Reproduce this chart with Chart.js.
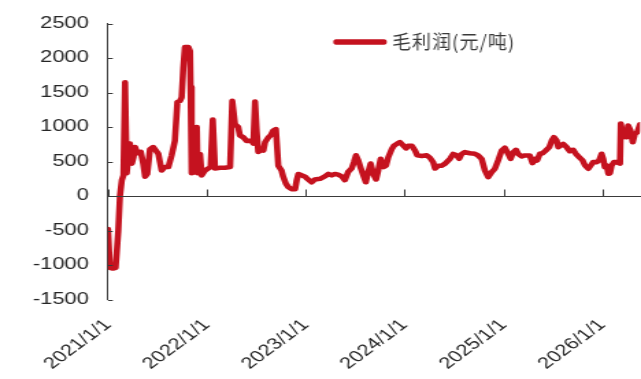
<!DOCTYPE html>
<html>
<head>
<meta charset="utf-8">
<script src="https://cdn.jsdelivr.net/npm/chart.js@4/dist/chart.umd.min.js"></script>
<style>
  html, body { margin: 0; padding: 0; background: #fff; overflow: hidden; }
  #wrap { width: 641px; height: 379px; overflow: hidden; background: #fff; }
  #chart { display: block; transform-origin: 0 0; }
</style>
</head>
<body>
<div id="wrap"><canvas id="chart"></canvas></div>
<script>
// Gross margin series, yuan per tonne
const seriesLabel = '毛利润(元/吨)';

const dates = [
  '2021-01-01','2021-01-08','2021-01-19','2021-01-29','2021-02-08','2021-02-14','2021-02-21','2021-02-27',
  '2021-03-05','2021-03-11','2021-03-18','2021-03-23','2021-03-30','2021-04-05','2021-04-11','2021-04-19',
  '2021-05-02','2021-05-11','2021-05-18','2021-05-26','2021-06-05','2021-06-17','2021-07-06','2021-07-18',
  '2021-07-30','2021-08-12','2021-08-24','2021-09-05','2021-09-14','2021-09-24','2021-09-30','2021-10-06',
  '2021-10-12','2021-10-25','2021-10-31','2021-11-02','2021-11-06','2021-11-15','2021-11-25','2021-11-28',
  '2021-12-07','2021-12-13','2021-12-25',
  '2022-01-06','2022-01-15','2022-01-23','2022-01-31','2022-02-19','2022-03-09','2022-03-28','2022-04-05',
  '2022-04-15','2022-04-27','2022-05-03','2022-05-16','2022-05-28','2022-06-16','2022-06-22','2022-06-28',
  '2022-07-04','2022-07-10','2022-07-23','2022-07-29','2022-08-04','2022-08-16','2022-08-25','2022-09-03',
  '2022-09-13','2022-09-22','2022-10-04','2022-10-10','2022-10-20','2022-10-29','2022-11-10','2022-11-23',
  '2022-11-29','2022-12-05','2022-12-17','2022-12-30',
  '2023-01-07','2023-01-23','2023-02-04','2023-02-23','2023-03-13','2023-03-26','2023-04-07','2023-04-19',
  '2023-05-01','2023-05-14','2023-05-26','2023-06-07','2023-06-20','2023-06-28','2023-07-06','2023-07-14',
  '2023-07-24','2023-08-02','2023-08-11','2023-08-20','2023-08-29','2023-09-08','2023-09-18','2023-09-26',
  '2023-10-05','2023-10-15','2023-10-25','2023-11-02','2023-11-15','2023-11-23','2023-12-05','2023-12-15',
  '2023-12-28',
  '2024-01-07','2024-01-15','2024-01-28','2024-02-09','2024-02-17','2024-03-05','2024-03-23','2024-04-04',
  '2024-04-16','2024-04-23','2024-05-05','2024-05-17','2024-05-30','2024-06-17','2024-06-29','2024-07-12',
  '2024-07-21','2024-07-30','2024-08-11','2024-08-30','2024-09-17','2024-09-29','2024-10-12','2024-10-24',
  '2024-11-05','2024-11-18','2024-11-30','2024-12-12','2024-12-25',
  '2025-01-06','2025-01-18','2025-01-27','2025-02-06','2025-02-16','2025-02-24','2025-03-09','2025-03-21',
  '2025-04-08','2025-04-18','2025-04-27','2025-05-05','2025-05-15','2025-05-25','2025-06-06','2025-06-19',
  '2025-06-28','2025-07-06','2025-07-16','2025-07-22','2025-07-31','2025-08-09','2025-08-22','2025-09-03',
  '2025-09-15','2025-09-25','2025-10-07','2025-10-20','2025-10-29','2025-11-10','2025-11-19','2025-11-28',
  '2025-12-11','2025-12-20','2025-12-29',
  '2026-01-04','2026-01-10','2026-01-17','2026-01-23','2026-01-29','2026-02-04','2026-02-13','2026-02-23',
  '2026-03-07','2026-03-10','2026-03-19','2026-03-25','2026-04-01','2026-04-06','2026-04-15','2026-04-23',
  '2026-05-01','2026-05-10','2026-05-20'
];

const grossMargin = [
  -480, -1040, -1050, -1040, -500, 0, 230, 300,
  1650, 330, 600, 760, 470, 560, 710, 620,
  640, 470, 280, 320, 680, 710, 610, 370,
  420, 420, 590, 800, 1360, 1380, 1430, 1860,
  2160, 2160, 2100, 1580, 330, 350, 1000, 330,
  610, 300, 370,
  400, 420, 1110, 400, 410, 410, 420, 1380,
  1040, 1000, 880, 850, 800, 800, 760, 1370,
  950, 640, 680, 660, 780, 850, 880, 950,
  970, 440, 370, 280, 180, 130, 100, 100,
  230, 320, 300, 280,
  250, 200, 240, 250, 285, 320, 300, 320,
  310, 285, 230, 350, 400, 490, 590, 520,
  400, 300, 200, 350, 470, 320, 240, 370,
  540, 420, 440, 560, 680, 730, 760, 780,
  730,
  690, 730, 730, 660, 590, 580, 590, 555,
  490, 400, 440, 440, 470, 540, 610, 590,
  540, 610, 636, 620, 612, 588, 540, 370,
  275, 347, 396, 516, 660,
  700, 612, 540, 636, 670, 612, 573, 588,
  588, 477, 540, 516, 612, 620, 660, 708,
  805, 853, 805, 708, 733, 757, 708, 650,
  670, 612, 564, 516, 443, 396, 443, 491,
  491, 516, 612,
  540, 419, 443, 323, 330, 443, 491, 491,
  470, 1050, 853, 949, 853, 1022, 949, 780,
  901, 925, 1040
];

const yTickValues = [-1500, -1000, -500, 0, 500, 1000, 1500, 2000, 2500];
const tickYears = [2021, 2022, 2023, 2024, 2025, 2026];

// The chart is laid out on a narrower canvas and widened horizontally.
const W = 641, H = 379;
const innerW = 468;
const STRETCH = W / innerW;

const lineColor = '#C5121F';
const axisColor = '#3a3a3a';
const textColor = '#262626';

const toTime = s => {
  const [y, m, d] = s.split('-').map(Number);
  return Date.UTC(y, m - 1, d);
};

const canvas = document.getElementById('chart');
canvas.width = innerW;
canvas.height = H;
canvas.style.width = innerW + 'px';
canvas.style.height = H + 'px';
canvas.style.transform = 'scaleX(' + STRETCH + ')';

const plotLeft = 108 / STRETCH;
const plotRight = 640 / STRETCH;
const plotTop = 22.7;
const plotBottom = 299.5;

// Axis line through zero with upward year ticks, and inward ticks on the value axis
const axisMarks = {
  id: 'axisMarks',
  afterDatasetsDraw(chart) {
    const { ctx, chartArea: a, scales: { x, y } } = chart;
    ctx.save();
    ctx.strokeStyle = axisColor;
    ctx.lineWidth = 1;
    yTickValues.forEach(v => {
      const py = Math.round(y.getPixelForValue(v)) + 0.5;
      ctx.beginPath();
      ctx.moveTo(a.left, py);
      ctx.lineTo(a.left + 3.5, py);
      ctx.stroke();
    });
    const y0 = Math.round(y.getPixelForValue(0)) + 0.5;
    ctx.beginPath();
    ctx.moveTo(a.left, y0);
    ctx.lineTo(chart.width, y0);
    ctx.stroke();
    tickYears.forEach(yr => {
      const px = Math.round(x.getPixelForValue(Date.UTC(yr, 0, 1))) + 0.5;
      ctx.beginPath();
      ctx.moveTo(px, y0);
      ctx.lineTo(px, y0 - 7);
      ctx.stroke();
    });
    ctx.restore();
  }
};

// Legend: short thick line sample followed by the series name
const lineLegend = {
  id: 'lineLegend',
  afterDraw(chart) {
    const ds = chart.data.datasets[0];
    const ctx = chart.ctx;
    ctx.save();
    ctx.translate(336 / STRETCH, 42);
    ctx.scale(1 / STRETCH, 1);
    ctx.strokeStyle = ds.borderColor;
    ctx.lineWidth = 5.5;
    ctx.lineCap = 'round';
    ctx.beginPath();
    ctx.moveTo(0, 0);
    ctx.lineTo(48, 0);
    ctx.stroke();
    ctx.fillStyle = '#3a3a3a';
    ctx.font = '19px "Noto Sans CJK SC"';
    if ('letterSpacing' in ctx) ctx.letterSpacing = '1px';
    ctx.textBaseline = 'middle';
    ctx.textAlign = 'left';
    ctx.fillText(ds.label, 56, 0);
    ctx.restore();
  }
};

new Chart(canvas, {
  type: 'line',
  data: {
    datasets: [{
      label: seriesLabel,
      data: dates.map((d, i) => ({ x: toTime(d), y: grossMargin[i] })),
      borderColor: lineColor,
      backgroundColor: lineColor,
      borderWidth: 4.6,
      borderJoinStyle: 'round',
      borderCapStyle: 'round',
      pointRadius: 0,
      tension: 0,
      fill: false
    }]
  },
  options: {
    responsive: false,
    animation: false,
    devicePixelRatio: 1,
    layout: { padding: { left: 0, right: innerW - plotRight, top: plotTop, bottom: 0 } },
    plugins: { legend: { display: false }, tooltip: { enabled: false } },
    scales: {
      x: {
        type: 'linear',
        position: 'bottom',
        min: toTime(dates[0]),
        max: toTime(dates[dates.length - 1]),
        afterBuildTicks: s => { s.ticks = tickYears.map(yr => ({ value: Date.UTC(yr, 0, 1) })); },
        afterFit: s => { s.height = H - plotBottom; s.paddingLeft = 0; s.paddingRight = 0; },
        grid: { display: false, drawTicks: false },
        border: { display: false },
        ticks: {
          autoSkip: false,
          minRotation: 45,
          maxRotation: 45,
          padding: 16,
          color: textColor,
          font: { family: '"Liberation Sans", Arial, sans-serif', size: 16 },
          callback: v => new Date(v).getUTCFullYear() + '/1/1'
        }
      },
      y: {
        min: -1500,
        max: 2500,
        afterBuildTicks: s => { s.ticks = yTickValues.map(v => ({ value: v })); },
        afterFit: s => { s.width = plotLeft; },
        grid: { display: false, drawTicks: false },
        border: { display: true, color: axisColor, width: 1 },
        ticks: {
          padding: 14,
          color: textColor,
          font: { family: '"Liberation Sans", Arial, sans-serif', size: 16 },
          callback: v => String(v)
        }
      }
    }
  },
  plugins: [axisMarks, lineLegend]
});
</script>
</body>
</html>
